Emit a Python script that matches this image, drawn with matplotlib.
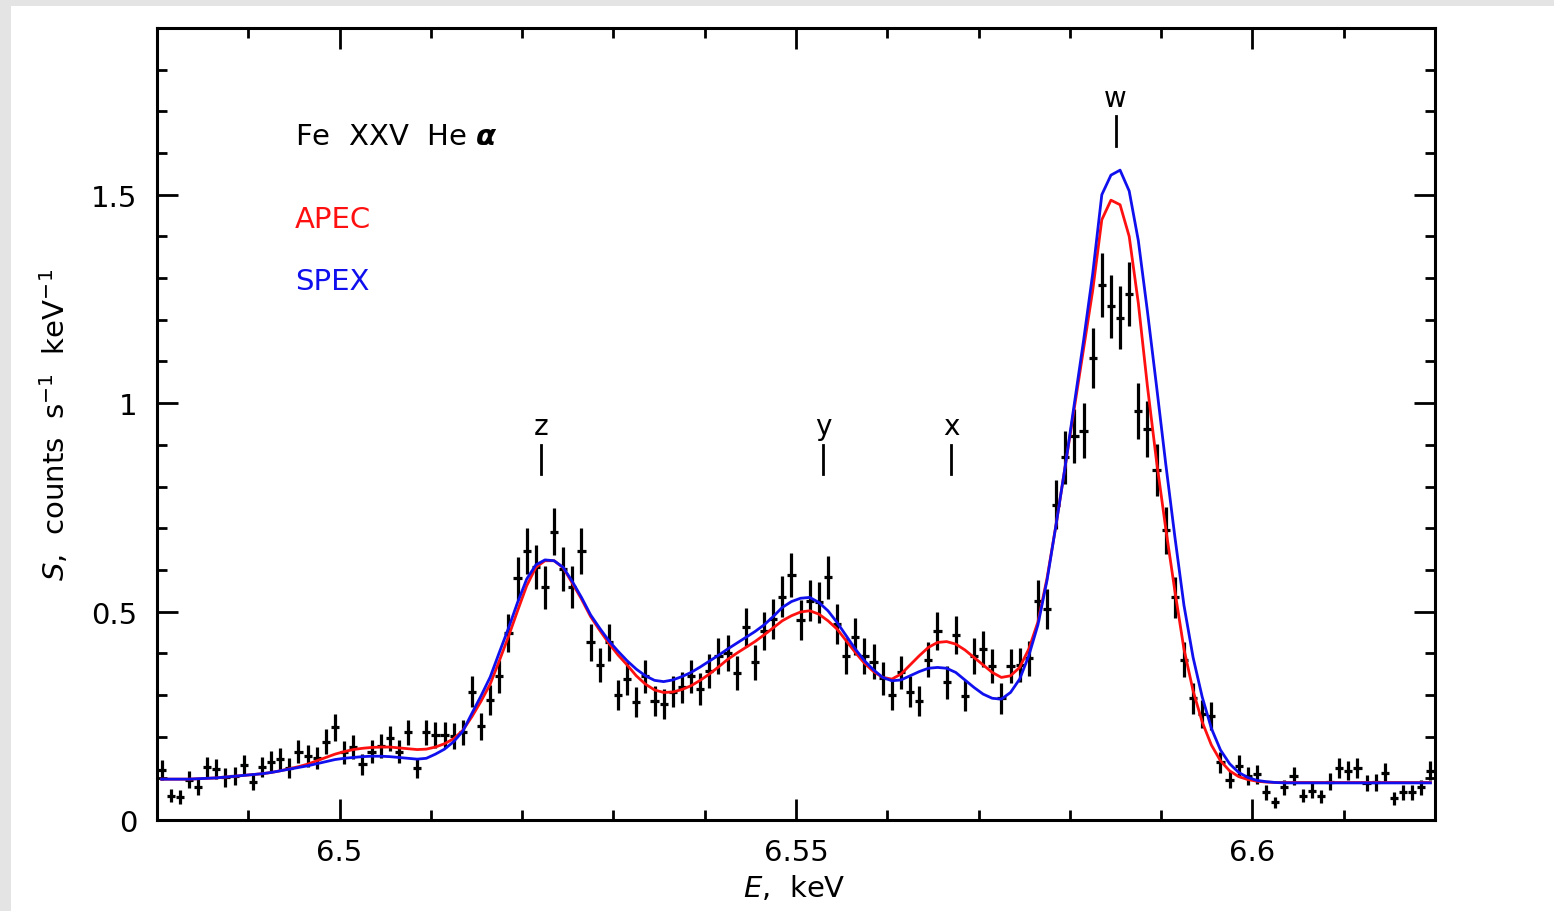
import numpy as np
import matplotlib
matplotlib.use('Agg')
import matplotlib.pyplot as plt
from matplotlib.ticker import MultipleLocator, FixedLocator
from matplotlib.patches import Rectangle

# ---------------- data ----------------
energy = [
    6.4805, 6.4815, 6.4825, 6.4835, 6.4845, 6.4855, 6.4865, 6.4875, 6.4885, 6.4895,
    6.4905, 6.4915, 6.4925, 6.4935, 6.4945, 6.4955, 6.4965, 6.4975, 6.4985, 6.4995,
    6.5005, 6.5015, 6.5025, 6.5035, 6.5045, 6.5055, 6.5065, 6.5075, 6.5085, 6.5095,
    6.5105, 6.5115, 6.5125, 6.5135, 6.5145, 6.5155, 6.5165, 6.5175, 6.5185, 6.5195,
    6.5205, 6.5215, 6.5225, 6.5235, 6.5245, 6.5255, 6.5265, 6.5275, 6.5285, 6.5295,
    6.5305, 6.5315, 6.5325, 6.5335, 6.5345, 6.5355, 6.5365, 6.5375, 6.5385, 6.5395,
    6.5405, 6.5415, 6.5425, 6.5435, 6.5445, 6.5455, 6.5465, 6.5475, 6.5485, 6.5495,
    6.5505, 6.5515, 6.5525, 6.5535, 6.5545, 6.5555, 6.5565, 6.5575, 6.5585, 6.5595,
    6.5605, 6.5615, 6.5625, 6.5635, 6.5645, 6.5655, 6.5665, 6.5675, 6.5685, 6.5695,
    6.5705, 6.5715, 6.5725, 6.5735, 6.5745, 6.5755, 6.5765, 6.5775, 6.5785, 6.5795,
    6.5805, 6.5815, 6.5825, 6.5835, 6.5845, 6.5855, 6.5865, 6.5875, 6.5885, 6.5895,
    6.5905, 6.5915, 6.5925, 6.5935, 6.5945, 6.5955, 6.5965, 6.5975, 6.5985, 6.5995,
    6.6005, 6.6015, 6.6025, 6.6035, 6.6045, 6.6055, 6.6065, 6.6075, 6.6085, 6.6095,
    6.6105, 6.6115, 6.6125, 6.6135, 6.6145, 6.6155, 6.6165, 6.6175, 6.6185, 6.6195,
]

counts = [
    0.121, 0.058, 0.055, 0.097, 0.079, 0.126, 0.122, 0.102, 0.106, 0.132,
    0.092, 0.126, 0.140, 0.146, 0.124, 0.164, 0.153, 0.148, 0.188, 0.222,
    0.162, 0.176, 0.134, 0.164, 0.178, 0.196, 0.164, 0.210, 0.124, 0.210,
    0.204, 0.204, 0.202, 0.210, 0.308, 0.225, 0.287, 0.345, 0.448, 0.580,
    0.646, 0.606, 0.558, 0.692, 0.603, 0.559, 0.646, 0.426, 0.371, 0.426,
    0.300, 0.339, 0.282, 0.345, 0.286, 0.278, 0.308, 0.318, 0.345, 0.314,
    0.358, 0.393, 0.400, 0.353, 0.462, 0.378, 0.454, 0.482, 0.536, 0.588,
    0.480, 0.526, 0.522, 0.582, 0.470, 0.393, 0.440, 0.393, 0.380, 0.340,
    0.300, 0.354, 0.308, 0.286, 0.384, 0.454, 0.330, 0.444, 0.298, 0.393,
    0.410, 0.369, 0.292, 0.370, 0.372, 0.388, 0.526, 0.506, 0.756, 0.870,
    0.922, 0.934, 1.108, 1.283, 1.232, 1.205, 1.262, 0.982, 0.938, 0.839,
    0.695, 0.534, 0.385, 0.292, 0.254, 0.249, 0.138, 0.097, 0.130, 0.106,
    0.110, 0.066, 0.042, 0.078, 0.105, 0.058, 0.070, 0.057, 0.092, 0.124,
    0.118, 0.124, 0.089, 0.090, 0.113, 0.052, 0.066, 0.066, 0.078, 0.118,
]

errors = [
    0.024, 0.016, 0.016, 0.021, 0.019, 0.024, 0.024, 0.022, 0.022, 0.025,
    0.021, 0.024, 0.025, 0.026, 0.024, 0.028, 0.027, 0.026, 0.030, 0.032,
    0.027, 0.029, 0.025, 0.028, 0.029, 0.030, 0.028, 0.031, 0.024, 0.031,
    0.031, 0.031, 0.031, 0.031, 0.038, 0.032, 0.036, 0.040, 0.046, 0.052,
    0.055, 0.053, 0.051, 0.057, 0.053, 0.051, 0.055, 0.044, 0.041, 0.044,
    0.037, 0.040, 0.036, 0.040, 0.036, 0.036, 0.038, 0.038, 0.040, 0.038,
    0.041, 0.043, 0.043, 0.040, 0.046, 0.042, 0.046, 0.047, 0.050, 0.052,
    0.047, 0.049, 0.049, 0.052, 0.047, 0.043, 0.045, 0.043, 0.042, 0.040,
    0.037, 0.040, 0.038, 0.036, 0.042, 0.046, 0.039, 0.045, 0.037, 0.043,
    0.044, 0.041, 0.037, 0.041, 0.041, 0.042, 0.049, 0.048, 0.059, 0.063,
    0.065, 0.066, 0.072, 0.077, 0.075, 0.075, 0.076, 0.067, 0.066, 0.062,
    0.057, 0.050, 0.042, 0.037, 0.034, 0.034, 0.025, 0.021, 0.025, 0.022,
    0.023, 0.017, 0.014, 0.019, 0.022, 0.016, 0.018, 0.016, 0.021, 0.024,
    0.023, 0.024, 0.020, 0.020, 0.023, 0.016, 0.017, 0.017, 0.019, 0.023,
]

bin_halfwidth = 0.00045

apec = [
    0.098, 0.098, 0.098, 0.098, 0.099, 0.100, 0.101, 0.103, 0.105, 0.107,
    0.109, 0.111, 0.114, 0.118, 0.123, 0.128, 0.134, 0.142, 0.150, 0.158,
    0.164, 0.169, 0.172, 0.174, 0.175, 0.175, 0.173, 0.171, 0.169, 0.170,
    0.175, 0.183, 0.195, 0.215, 0.248, 0.285, 0.326, 0.382, 0.440, 0.502,
    0.562, 0.606, 0.622, 0.622, 0.605, 0.568, 0.530, 0.488, 0.455, 0.424,
    0.396, 0.372, 0.346, 0.326, 0.312, 0.306, 0.307, 0.313, 0.322, 0.335,
    0.350, 0.367, 0.385, 0.400, 0.414, 0.428, 0.444, 0.461, 0.478, 0.490,
    0.499, 0.502, 0.494, 0.478, 0.458, 0.430, 0.402, 0.376, 0.356, 0.342,
    0.338, 0.350, 0.372, 0.394, 0.414, 0.426, 0.428, 0.422, 0.408, 0.390,
    0.372, 0.354, 0.342, 0.346, 0.366, 0.410, 0.475, 0.580, 0.710, 0.850,
    0.990, 1.130, 1.270, 1.440, 1.487, 1.476, 1.400, 1.240, 1.040, 0.860,
    0.700, 0.550, 0.410, 0.310, 0.235, 0.180, 0.142, 0.118, 0.104, 0.097,
    0.093, 0.091, 0.090, 0.090, 0.090, 0.090, 0.090, 0.090, 0.090, 0.090,
    0.090, 0.090, 0.090, 0.090, 0.090, 0.090, 0.090, 0.090, 0.090, 0.090,
]

spex = [
    0.098, 0.098, 0.098, 0.098, 0.099, 0.100, 0.101, 0.103, 0.105, 0.107,
    0.109, 0.111, 0.114, 0.118, 0.122, 0.126, 0.130, 0.135, 0.140, 0.145,
    0.148, 0.150, 0.152, 0.153, 0.153, 0.152, 0.150, 0.148, 0.146, 0.148,
    0.158, 0.170, 0.188, 0.213, 0.256, 0.298, 0.343, 0.402, 0.460, 0.522,
    0.578, 0.612, 0.624, 0.622, 0.606, 0.572, 0.534, 0.492, 0.460, 0.430,
    0.405, 0.382, 0.362, 0.346, 0.335, 0.332, 0.336, 0.344, 0.354, 0.367,
    0.381, 0.395, 0.410, 0.424, 0.438, 0.452, 0.468, 0.488, 0.510, 0.524,
    0.532, 0.534, 0.522, 0.502, 0.474, 0.442, 0.410, 0.382, 0.360, 0.342,
    0.334, 0.336, 0.346, 0.356, 0.364, 0.366, 0.364, 0.354, 0.336, 0.318,
    0.302, 0.292, 0.290, 0.306, 0.338, 0.394, 0.468, 0.575, 0.710, 0.850,
    1.000, 1.150, 1.310, 1.500, 1.547, 1.559, 1.509, 1.390, 1.220, 1.040,
    0.855, 0.680, 0.515, 0.390, 0.295, 0.220, 0.168, 0.135, 0.114, 0.102,
    0.095, 0.092, 0.090, 0.089, 0.089, 0.089, 0.089, 0.089, 0.089, 0.089,
    0.089, 0.089, 0.089, 0.089, 0.089, 0.089, 0.089, 0.089, 0.089, 0.089,
]

line_names = ['z', 'y', 'x', 'w']
line_energy = [6.5221, 6.5530, 6.5670, 6.5850]
line_bar_low = [0.830, 0.830, 0.830, 1.616]
line_bar_high = [0.900, 0.900, 0.900, 1.688]
line_label_y = [0.926, 0.926, 0.926, 1.712]

x_ticks = [6.5, 6.55, 6.6]
x_tick_labels = ['6.5', '6.55', '6.6']
y_ticks = [0, 0.5, 1, 1.5]
y_tick_labels = ['0', '0.5', '1', '1.5']

# ---------------- figure ----------------
plt.rcParams['font.family'] = ['DejaVu Sans']
plt.rcParams['mathtext.fontset'] = 'dejavusans'

W, H = 1554, 912
fig = plt.figure(figsize=(W / 100, H / 100), dpi=100)
fig.patch.set_facecolor('white')
gray = '#e4e4e4'
fig.patches.append(Rectangle((0, 0), 11 / W, 1, transform=fig.transFigure,
                             facecolor=gray, edgecolor='none', zorder=-10))
fig.patches.append(Rectangle((0, 1 - 7 / H), 1, 7 / H, transform=fig.transFigure,
                             facecolor=gray, edgecolor='none', zorder=-10))

ax = fig.add_axes([157 / W, 1 - 821 / H, (1435 - 157) / W, (821 - 29) / H])

ax.errorbar(energy, counts, yerr=errors, xerr=bin_halfwidth, fmt='none',
            ecolor='black', elinewidth=2.3, capsize=0, zorder=2)
ax.plot(energy, apec, color='#ff1010', lw=2.0, zorder=3)
ax.plot(energy, spex, color='#1010ee', lw=2.0, zorder=4)

for name, e, lo, hi, ly in zip(line_names, line_energy, line_bar_low,
                               line_bar_high, line_label_y):
    ax.plot([e, e], [lo, hi], color='black', lw=2.0, zorder=5)
    ax.text(e, ly, name, ha='center', va='baseline', fontsize=20, color='black')

ax.text(0.108, 0.8535, 'Fe  XXV  He $\\boldsymbol{\\alpha}$', transform=ax.transAxes,
        fontsize=21, va='baseline', ha='left', color='black')
ax.text(0.108, 0.749, 'APEC', transform=ax.transAxes, fontsize=21,
        va='baseline', ha='left', color='#ff1010')
ax.text(0.108, 0.670, 'SPEX', transform=ax.transAxes, fontsize=21,
        va='baseline', ha='left', color='#1010ee')

ax.set_xlim(6.48, 6.62)
ax.set_ylim(0, 1.9)

ax.xaxis.set_major_locator(FixedLocator(x_ticks))
ax.set_xticklabels(x_tick_labels)
ax.xaxis.set_minor_locator(MultipleLocator(0.01))
ax.yaxis.set_major_locator(FixedLocator(y_ticks))
ax.set_yticklabels(y_tick_labels)
ax.yaxis.set_minor_locator(MultipleLocator(0.1))

ax.tick_params(which='both', direction='in', top=True, right=True, width=2.0,
               labelsize=21)
ax.tick_params(which='major', length=15)
ax.tick_params(which='minor', length=7)
ax.tick_params(axis='x', which='major', pad=13)
ax.tick_params(axis='y', which='major', pad=14)

for sp in ax.spines.values():
    sp.set_linewidth(2.2)

ax.set_xlabel('$E$,  keV', fontsize=21)
ax.set_ylabel('$S$,  counts  s$^{-1}$  keV$^{-1}$', fontsize=21)
ax.xaxis.set_label_coords(0.499, -0.0846)
ax.xaxis.label.set_va('center')
ax.yaxis.set_label_coords(-0.0798, 0.5)
ax.yaxis.label.set_va('center')

fig.savefig('out.png', dpi=100, facecolor=fig.get_facecolor())
